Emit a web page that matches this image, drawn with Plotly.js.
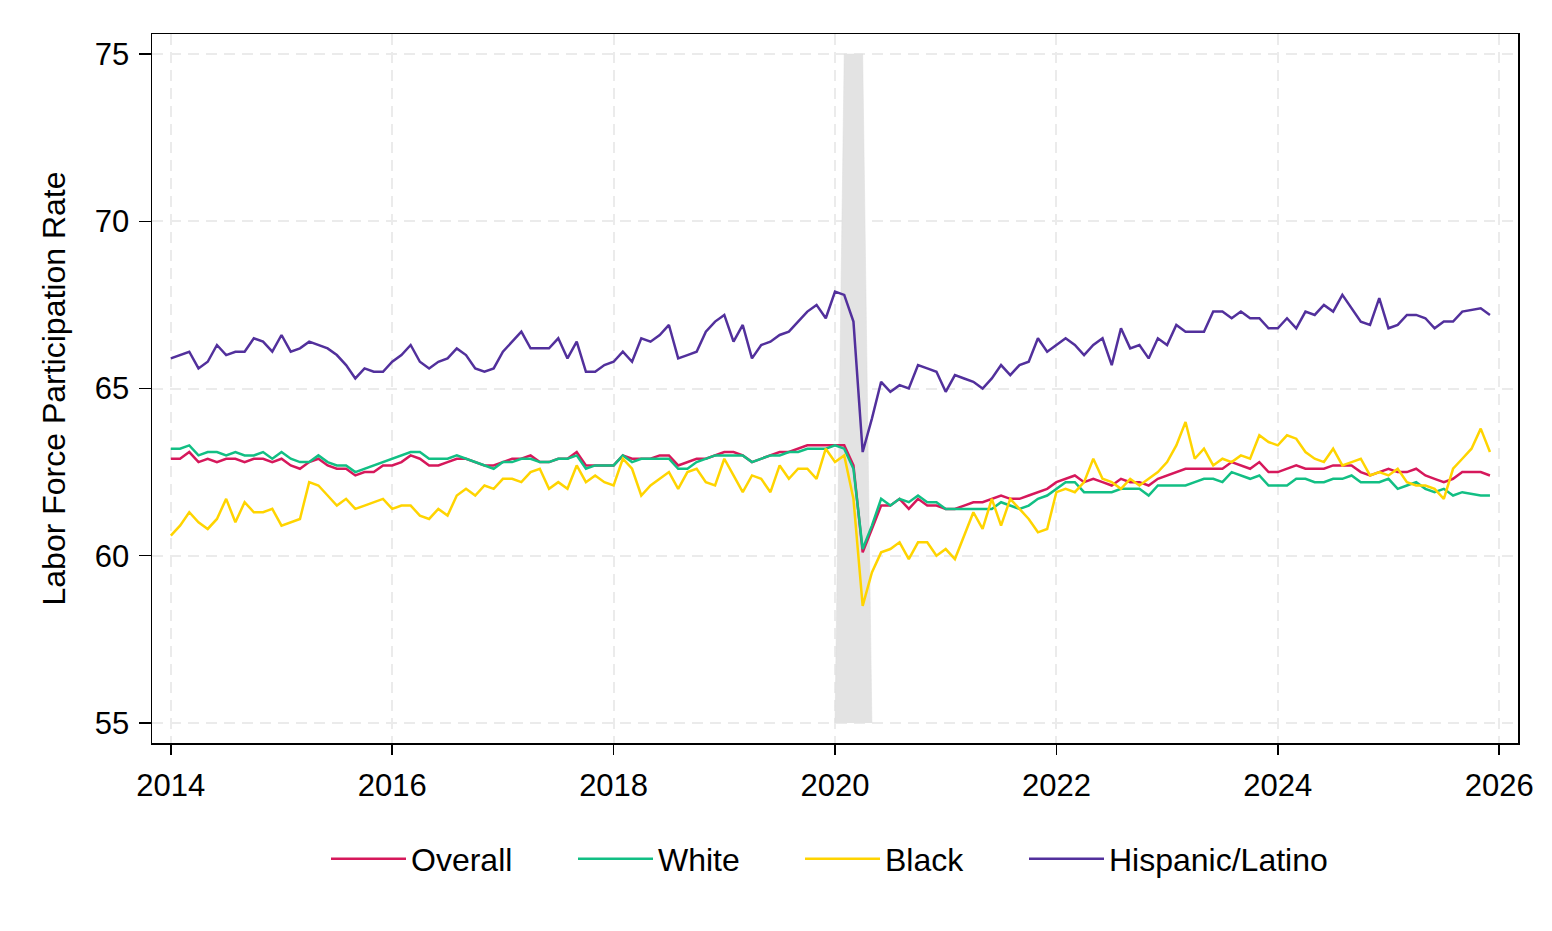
<!DOCTYPE html>
<html><head><meta charset="utf-8">
<script src="https://cdn.plot.ly/plotly-3.0.1.min.js"></script>
<style>html,body{margin:0;padding:0;background:#fff}#chart{width:1552px;height:931px}</style>
</head><body><div id="chart"></div>
<script>
// Monthly labor force participation rate, Jan 2014 – Dec 2025
const startYear = 2014;
const seriesNames = ['Overall', 'White', 'Black', 'Hispanic/Latino'];
const seriesColors = ['#D6185B', '#12BF84', '#FFD400', '#52309C'];

const overall = [
  62.9,62.9,63.1,62.8,62.9,62.8,62.9,62.9,62.8,62.9,62.9,62.8,
  62.9,62.7,62.6,62.8,62.9,62.7,62.6,62.6,62.4,62.5,62.5,62.7,
  62.7,62.8,63.0,62.9,62.7,62.7,62.8,62.9,62.9,62.8,62.7,62.7,
  62.8,62.9,62.9,63.0,62.8,62.8,62.9,62.9,63.1,62.7,62.7,62.7,
  62.7,63.0,62.9,62.9,62.9,63.0,63.0,62.7,62.8,62.9,62.9,63.0,
  63.1,63.1,63.0,62.8,62.9,63.0,63.1,63.1,63.2,63.3,63.3,63.3,
  63.3,63.3,62.7,60.1,60.8,61.5,61.5,61.7,61.4,61.7,61.5,61.5,
  61.4,61.4,61.5,61.6,61.6,61.7,61.8,61.7,61.7,61.8,61.9,62.0,
  62.2,62.3,62.4,62.2,62.3,62.2,62.1,62.3,62.2,62.2,62.1,62.3,
  62.4,62.5,62.6,62.6,62.6,62.6,62.6,62.8,62.7,62.6,62.8,62.5,
  62.5,62.6,62.7,62.6,62.6,62.6,62.7,62.7,62.7,62.5,62.4,62.5,
  62.6,62.5,62.5,62.6,62.4,62.3,62.2,62.3,62.5,62.5,62.5,62.4
];
const white = [
  63.2,63.2,63.3,63.0,63.1,63.1,63.0,63.1,63.0,63.0,63.1,62.9,
  63.1,62.9,62.8,62.8,63.0,62.8,62.7,62.7,62.5,62.6,62.7,62.8,
  62.9,63.0,63.1,63.1,62.9,62.9,62.9,63.0,62.9,62.8,62.7,62.6,
  62.8,62.8,62.9,62.9,62.8,62.8,62.9,62.9,63.0,62.6,62.7,62.7,
  62.7,63.0,62.8,62.9,62.9,62.9,62.9,62.6,62.6,62.8,62.9,63.0,
  63.0,63.0,63.0,62.8,62.9,63.0,63.0,63.1,63.1,63.2,63.2,63.2,
  63.3,63.2,62.6,60.2,60.9,61.7,61.5,61.7,61.6,61.8,61.6,61.6,
  61.4,61.4,61.4,61.4,61.4,61.4,61.6,61.5,61.4,61.5,61.7,61.8,
  62.0,62.2,62.2,61.9,61.9,61.9,61.9,62.0,62.0,62.0,61.8,62.1,
  62.1,62.1,62.1,62.2,62.3,62.3,62.2,62.5,62.4,62.3,62.4,62.1,
  62.1,62.1,62.3,62.3,62.2,62.2,62.3,62.3,62.4,62.2,62.2,62.2,
  62.3,62.0,62.1,62.2,62.0,61.9,62.0,61.8,61.9,61.85,61.8,61.8
];
const black = [
  60.6,60.9,61.3,61.0,60.8,61.1,61.7,61.0,61.6,61.3,61.3,61.4,
  60.9,61.0,61.1,62.2,62.1,61.8,61.5,61.7,61.4,61.5,61.6,61.7,
  61.4,61.5,61.5,61.2,61.1,61.4,61.2,61.8,62.0,61.8,62.1,62.0,
  62.3,62.3,62.2,62.5,62.6,62.0,62.2,62.0,62.7,62.2,62.4,62.2,
  62.1,62.9,62.6,61.8,62.1,62.3,62.5,62.0,62.5,62.6,62.2,62.1,
  62.9,62.4,61.9,62.4,62.3,61.9,62.7,62.3,62.6,62.6,62.3,63.2,
  62.8,63.0,61.7,58.5,59.5,60.1,60.2,60.4,59.9,60.4,60.4,60.0,
  60.2,59.9,60.6,61.3,60.8,61.7,60.9,61.7,61.4,61.1,60.7,60.8,
  61.9,62.0,61.9,62.2,62.9,62.3,62.2,62.0,62.3,62.1,62.3,62.5,
  62.8,63.3,64.0,62.9,63.2,62.7,62.9,62.8,63.0,62.9,63.6,63.4,
  63.3,63.6,63.5,63.1,62.9,62.8,63.2,62.7,62.8,62.9,62.4,62.5,
  62.4,62.6,62.2,62.1,62.1,62.0,61.7,62.6,62.9,63.2,63.8,63.1
];
const hispanic = [
  65.9,66.0,66.1,65.6,65.8,66.3,66.0,66.1,66.1,66.5,66.4,66.1,
  66.6,66.1,66.2,66.4,66.3,66.2,66.0,65.7,65.3,65.6,65.5,65.5,
  65.8,66.0,66.3,65.8,65.6,65.8,65.9,66.2,66.0,65.6,65.5,65.6,
  66.1,66.4,66.7,66.2,66.2,66.2,66.5,65.9,66.4,65.5,65.5,65.7,
  65.8,66.1,65.8,66.5,66.4,66.6,66.9,65.9,66.0,66.1,66.7,67.0,
  67.2,66.4,66.9,65.9,66.3,66.4,66.6,66.7,67.0,67.3,67.5,67.1,
  67.9,67.8,67.0,63.1,64.1,65.2,64.9,65.1,65.0,65.7,65.6,65.5,
  64.9,65.4,65.3,65.2,65.0,65.3,65.7,65.4,65.7,65.8,66.5,66.1,
  66.3,66.5,66.3,66.0,66.3,66.5,65.7,66.8,66.2,66.3,65.9,66.5,
  66.3,66.9,66.7,66.7,66.7,67.3,67.3,67.1,67.3,67.1,67.1,66.8,
  66.8,67.1,66.8,67.3,67.2,67.5,67.3,67.8,67.4,67.0,66.9,67.7,
  66.8,66.9,67.2,67.2,67.1,66.8,67.0,67.0,67.3,67.35,67.4,67.2
];

// Recession shading (Feb–Apr 2020 flagged), months Jan–May 2020
const recessionYear = 2020;
const recessionMonthIdx = [0, 1, 2, 3, 4];
const recessionFlag = [0, 1, 1, 1, 0];
const yTicks = [55, 60, 65, 70, 75];
const xTicks = [2014, 2016, 2018, 2020, 2022, 2024, 2026];

const xMonths = overall.map((_, i) => startYear + i / 12);
const recX = recessionMonthIdx.map(m => recessionYear + m / 12);
const yLow = Math.min(...yTicks), yHigh = Math.max(...yTicks);

const legendIds = ['legend', 'legend2', 'legend3', 'legend4'];
const traces = [
  {x: recX, y: recX.map(() => yLow), mode: 'lines', line: {width: 0, color: 'rgba(0,0,0,0)'},
   showlegend: false, hoverinfo: 'skip'},
  {x: recX, y: recessionFlag.map(f => f ? yHigh : yLow), mode: 'lines', fill: 'tonexty',
   fillcolor: '#E3E3E3', line: {width: 0.5, color: '#DCDCDC'}, showlegend: false, hoverinfo: 'skip'}
];
[overall, white, black, hispanic].forEach((vals, k) => {
  traces.push({x: xMonths, y: vals, mode: 'lines', name: seriesNames[k], legend: legendIds[k],
    line: {color: seriesColors[k], width: 2.5}});
});

const font = 'Liberation Sans, Arial, Helvetica, sans-serif';
const plotL = 152, plotW = 1366;
const legendLineStarts = [326, 573, 800, 1024];
const legendStyle = (px) => ({
  orientation: 'h', x: (px - plotL) / plotW, xanchor: 'left', y: -0.1636, yanchor: 'middle',
  font: {size: 32, family: font}, itemwidth: 75, bgcolor: 'rgba(0,0,0,0)'
});

const layout = {
  width: 1552, height: 931,
  margin: {l: 152, r: 34, t: 34, b: 188},
  paper_bgcolor: '#fff', plot_bgcolor: '#fff',
  font: {family: font, color: '#000', size: 31},
  xaxis: {
    range: [2013.83, 2026.17], tickvals: xTicks, ticktext: xTicks.map(String),
    showgrid: true, gridcolor: '#EBEBEB', gridwidth: 2, griddash: '11px,7px',
    zeroline: false, showline: true, mirror: true, linecolor: '#000', linewidth: 1.5,
    ticks: 'outside', ticklen: 10, tickwidth: 1.5, tickcolor: '#000',
    tickfont: {size: 31, family: font}, ticklabelstandoff: 4
  },
  yaxis: {
    range: [54.4, 75.6], tickvals: yTicks, ticktext: yTicks.map(String),
    showgrid: true, gridcolor: '#EBEBEB', gridwidth: 2, griddash: '11px,7px',
    zeroline: false, showline: true, mirror: true, linecolor: '#000', linewidth: 1.5,
    ticks: 'outside', ticklen: 12, tickwidth: 1.5, tickcolor: '#000',
    tickfont: {size: 31, family: font}, ticklabelstandoff: 3,
    title: {text: 'Labor Force Participation Rate', font: {size: 32, family: font}, standoff: 19}
  },
  showlegend: true,
  legend: legendStyle(legendLineStarts[0]),
  legend2: legendStyle(legendLineStarts[1]),
  legend3: legendStyle(legendLineStarts[2]),
  legend4: legendStyle(legendLineStarts[3])
};
Plotly.newPlot('chart', traces, layout, {displayModeBar: false, staticPlot: true});
</script></body></html>
